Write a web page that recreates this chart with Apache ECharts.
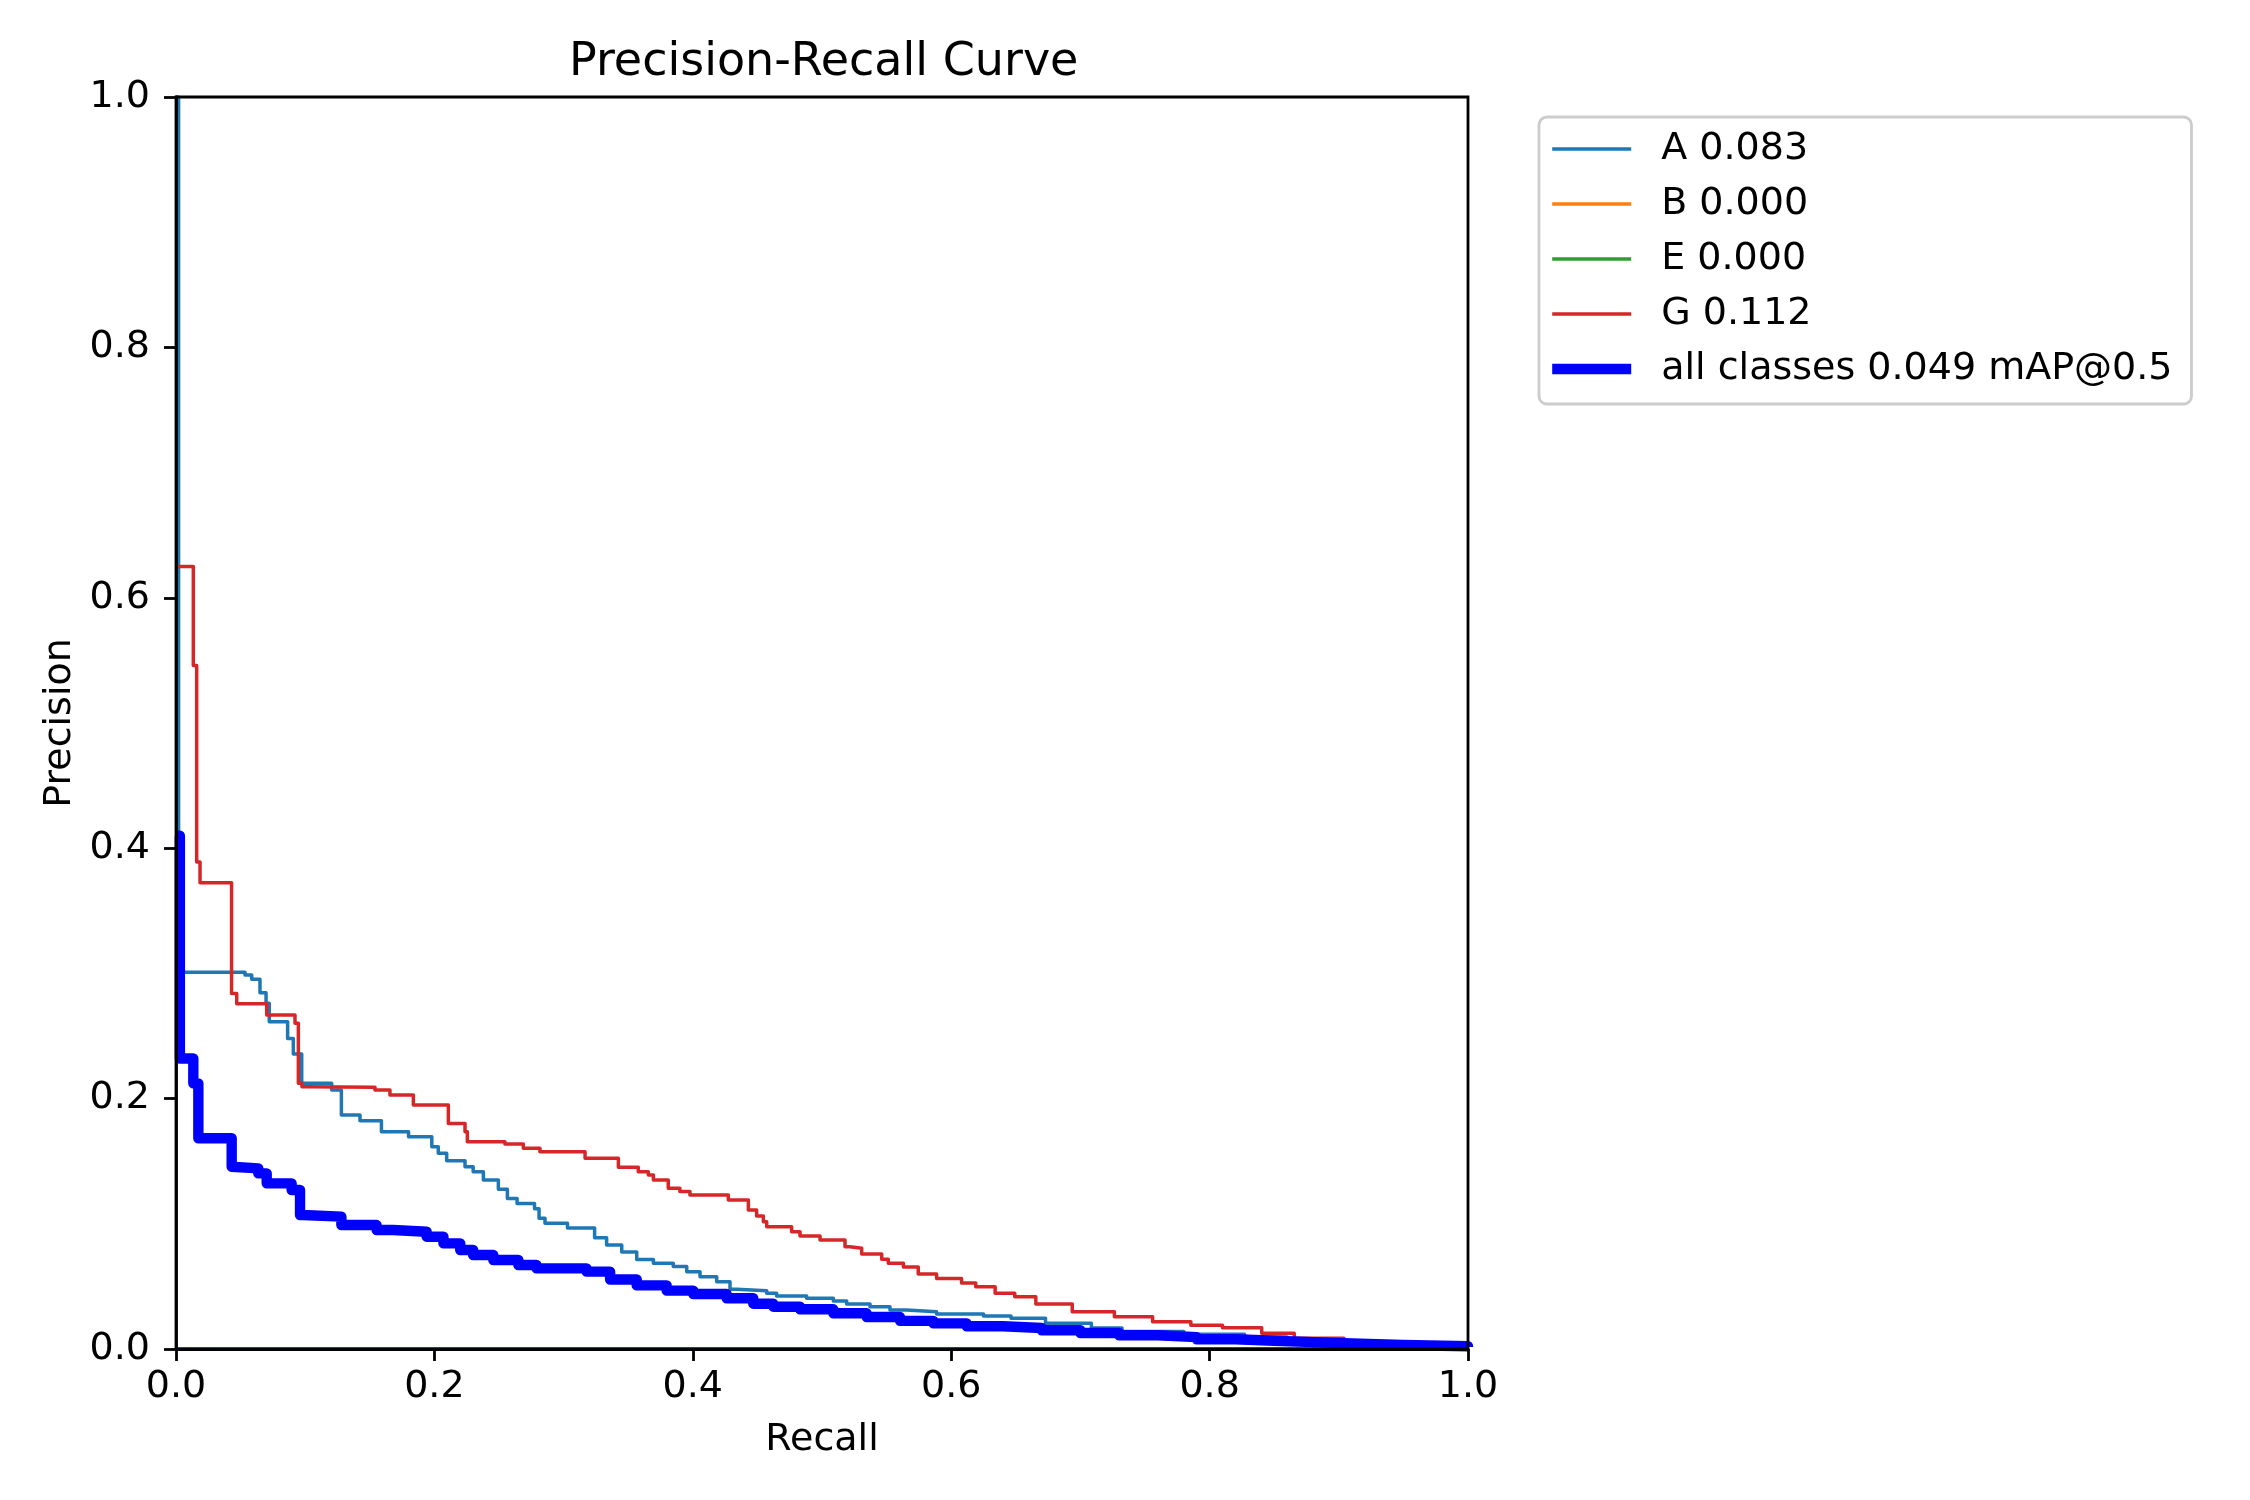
<!DOCTYPE html>
<html>
<head>
<meta charset="utf-8">
<script src="https://cdn.jsdelivr.net/npm/echarts@6/dist/echarts.min.js"></script>
<style>
html,body{margin:0;padding:0;background:#fff;}
#chart{width:2250px;height:1500px;}
</style>
</head>
<body>
<div id="chart"></div>
<script>
// ---- data ----
const titleText = 'Precision-Recall Curve';
const xTickLabels = ['0.0', '0.2', '0.4', '0.6', '0.8', '1.0'];
const yTickLabels = ['0.0', '0.2', '0.4', '0.6', '0.8', '1.0'];
const seriesNames = ['A 0.083', 'B 0.000', 'E 0.000', 'G 0.112', 'all classes 0.049 mAP@0.5'];

// [recall, precision] — each level holds from its recall until the next point
const curveA = [
  [0, 1.0], [0.002, 0.301], [0.0534, 0.2987], [0.0586, 0.2953], [0.065, 0.2846],
  [0.0697, 0.2761], [0.0722, 0.2614], [0.0864, 0.2481], [0.0908, 0.2356], [0.0973, 0.2122],
  [0.1205, 0.2069], [0.128, 0.1869], [0.1424, 0.1824], [0.159, 0.1736], [0.18, 0.1696],
  [0.198, 0.1616], [0.203, 0.1563], [0.2095, 0.1504], [0.2237, 0.1456], [0.230, 0.1416],
  [0.2379, 0.135], [0.2495, 0.1275], [0.2565, 0.1203], [0.264, 0.1163], [0.2775, 0.112],
  [0.281, 0.1044], [0.2856, 0.1005], [0.303, 0.0966], [0.324, 0.0888], [0.3333, 0.083],
  [0.345, 0.0775], [0.3566, 0.0714], [0.3695, 0.0684], [0.3849, 0.0658], [0.3953, 0.0618],
  [0.4056, 0.0578], [0.4185, 0.0538], [0.4288, 0.0477], [0.434, 0.0466], [0.4572, 0.0445],
  [0.4649, 0.0423], [0.4881, 0.0405], [0.5088, 0.0383], [0.5191, 0.0359], [0.5372, 0.0338],
  [0.5526, 0.0312], [0.5655, 0.0298], [0.5887, 0.028], [0.625, 0.0264], [0.6463, 0.0245],
  [0.673, 0.0205], [0.7085, 0.0168], [0.7322, 0.014], [0.78, 0.0118], [0.827, 0.0095],
  [0.86, 0.0075], [0.886, 0.0055], [0.92, 0.004], [0.96, 0.003], [1.0, 0.002]
];
const curveB = [[0, 0], [1.0, 0]];
const curveE = [[0, 0], [1.0, 0]];
const curveG = [
  [0.0015, 0.625], [0.0134, 0.546], [0.016, 0.389], [0.0186, 0.3725], [0.043, 0.284],
  [0.047, 0.2758], [0.0702, 0.2668], [0.0921, 0.2601], [0.0947, 0.2122], [0.0975, 0.2095],
  [0.1011, 0.209], [0.154, 0.2069], [0.1656, 0.2029], [0.1837, 0.1949], [0.2108, 0.1802],
  [0.2237, 0.1736], [0.2255, 0.1656], [0.2546, 0.1637], [0.2688, 0.1603], [0.2817, 0.1576],
  [0.3166, 0.1523], [0.3424, 0.1451], [0.3578, 0.1416], [0.3656, 0.139], [0.3695, 0.135],
  [0.381, 0.1283], [0.39, 0.1257], [0.3978, 0.123], [0.4275, 0.119], [0.443, 0.111],
  [0.4494, 0.1062], [0.4546, 0.1017], [0.4572, 0.0977], [0.4765, 0.0937], [0.483, 0.0903],
  [0.4985, 0.087], [0.5178, 0.0817], [0.5217, 0.0804], [0.5307, 0.0759], [0.5462, 0.0716],
  [0.5513, 0.0684], [0.563, 0.0655], [0.5745, 0.0599], [0.5887, 0.0564], [0.608, 0.0527],
  [0.619, 0.0498], [0.634, 0.0445], [0.6492, 0.0418], [0.6655, 0.0359], [0.6937, 0.0298],
  [0.7263, 0.0258], [0.7559, 0.0218], [0.7855, 0.019], [0.81, 0.017], [0.8403, 0.0125],
  [0.8655, 0.0085], [0.904, 0.005], [0.95, 0.003], [1.0, 0.002]
];
const curveAll = [
  [0.001, 0.41], [0.003, 0.232], [0.0134, 0.2122], [0.0173, 0.1683], [0.0431, 0.1456],
  [0.0445, 0.1443], [0.0637, 0.1403], [0.0702, 0.1323], [0.0895, 0.127], [0.096, 0.107],
  [0.098, 0.1057], [0.128, 0.099], [0.1553, 0.095], [0.168, 0.0937], [0.194, 0.0897],
  [0.207, 0.0844], [0.22, 0.0791], [0.23, 0.0751], [0.2456, 0.0711], [0.265, 0.0671],
  [0.279, 0.0644], [0.3178, 0.0618], [0.336, 0.0555], [0.3566, 0.0508], [0.3798, 0.0466],
  [0.4004, 0.0439], [0.4262, 0.0405], [0.4468, 0.0362], [0.4623, 0.0338], [0.483, 0.0317],
  [0.5088, 0.0285], [0.5346, 0.0255], [0.5604, 0.0225], [0.5862, 0.0205], [0.612, 0.0182],
  [0.64, 0.0168], [0.67, 0.015], [0.70, 0.0128], [0.73, 0.011], [0.76, 0.0095],
  [0.79, 0.0078], [0.82, 0.0066], [0.85, 0.0055], [0.88, 0.0045], [0.91, 0.0032],
  [0.95, 0.0022], [1.0, 0.0015]
];
const seriesColors = ['#1f77b4', '#ff7f0e', '#2ca02c', '#d62728', '#0000ff'];
const seriesWidths = [3.5, 3.5, 3.5, 3.5, 10.4];
const seriesData = [curveA, curveB, curveE, curveG, curveAll];

// ---- chart ----
const FONT = 'DejaVu Sans';
const chart = echarts.init(document.getElementById('chart'), null, {renderer: 'canvas'});

const series = seriesNames.map((name, i) => ({
  name: name,
  type: 'line',
  step: 'end',
  data: seriesData[i],
  showSymbol: false,
  symbol: 'none',
  clip: true,
  z: 2,
  lineStyle: {color: seriesColors[i], width: seriesWidths[i], join: 'round', cap: 'butt'},
  itemStyle: {color: seriesColors[i]},
  emphasis: {disabled: true}
}));

const legendData = seriesNames.map((name, i) => ({
  name: name,
  itemStyle: {opacity: 0},
  lineStyle: {color: seriesColors[i], width: seriesWidths[i]}
}));

const option = {
  animation: false,
  backgroundColor: '#ffffff',
  textStyle: {fontFamily: FONT, color: '#000'},
  title: {
    text: titleText,
    left: 569, top: 40, padding: 0,
    textStyle: {fontFamily: FONT, fontSize: 46, fontWeight: 'normal', color: '#000'}
  },
  grid: {
    left: 176, top: 97, width: 1292, height: 1252,
    show: true, borderColor: '#000', borderWidth: 2.8, backgroundColor: 'transparent', z: 10
  },
  legend: {
    orient: 'vertical',
    left: 1539, top: 117,
    data: legendData,
    padding: [13, 19, 16, 8],
    itemGap: 17,
    itemWidth: 79,
    itemHeight: 20,
    backgroundColor: 'rgba(255,255,255,0.8)',
    borderColor: '#cccccc',
    borderWidth: 2.8,
    borderRadius: 8,
    selectedMode: false,
    itemStyle: {opacity: 0},
    textStyle: {fontFamily: FONT, fontSize: 38, color: '#000', lineHeight: 38, padding: [0, 0, 0, 25]}
  },
  xAxis: {
    type: 'value', min: 0, max: 1, interval: 0.2, z: 10,
    name: 'Recall', nameLocation: 'middle', nameGap: 72,
    nameTextStyle: {fontFamily: FONT, fontSize: 38, color: '#000'},
    axisLine: {show: true, onZero: false, lineStyle: {color: '#000', width: 2.8}},
    axisTick: {show: true, inside: false, length: 12, lineStyle: {color: '#000', width: 2.8}},
    axisLabel: {
      margin: 19, fontFamily: FONT, fontSize: 38, color: '#000',
      formatter: v => xTickLabels[Math.round(v / 0.2)]
    },
    splitLine: {show: false}
  },
  yAxis: {
    type: 'value', min: 0, max: 1, interval: 0.2, z: 10,
    name: 'Precision', nameLocation: 'middle', nameGap: 94, nameRotate: 90,
    nameTextStyle: {fontFamily: FONT, fontSize: 38, color: '#000'},
    axisLine: {show: true, onZero: false, lineStyle: {color: '#000', width: 2.8}},
    axisTick: {show: true, inside: false, length: 12, lineStyle: {color: '#000', width: 2.8}},
    axisLabel: {
      margin: 26, fontFamily: FONT, fontSize: 38, color: '#000',
      formatter: v => yTickLabels[Math.round(v / 0.2)]
    },
    splitLine: {show: false}
  },
  series: series
};
chart.setOption(option);
</script>
</body>
</html>
